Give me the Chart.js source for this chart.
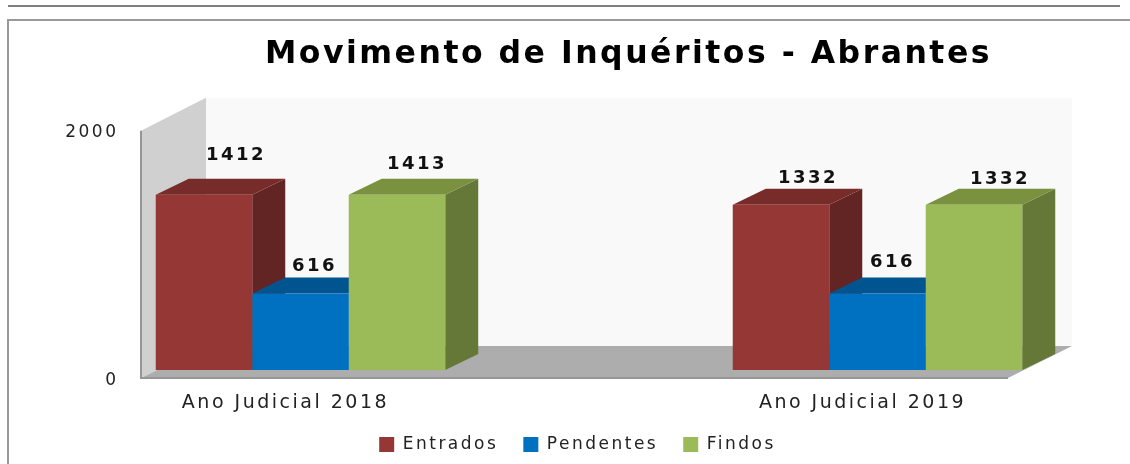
<!DOCTYPE html>
<html>
<head>
<meta charset="utf-8">
<style>
  html, body { margin: 0; background: #fff; }
  canvas { display: block; }
</style>
</head>
<body>
<canvas id="chart" width="1130" height="464"></canvas>
<script src="https://cdn.jsdelivr.net/npm/chart.js@4"></script>
<script>
const categories = ['Ano Judicial 2018', 'Ano Judicial 2019'];
const entrados = [1412, 1332];
const pendentes = [616, 616];
const findos = [1413, 1332];

const FONT = '"DejaVu Sans", sans-serif';
const DEPTH_X = 33;
const DEPTH_Y = 16;

// side and top colours of each series, same order as the datasets
const shades = [
  { top: '#772c2a', side: '#632523' },
  { top: '#005490', side: '#00497f' },
  { top: '#7a9140', side: '#667838' }
];

// labels in the picture don't sit at a fixed distance from the bars
const labelNudge = [
  [[32, -39], [27, -26]],
  [[14, -27], [15, -31]],
  [[20, -30], [26, -25]]
];

function poly(ctx, color, pts) {
  ctx.fillStyle = color;
  ctx.beginPath();
  pts.forEach((p, i) => i ? ctx.lineTo(p[0], p[1]) : ctx.moveTo(p[0], p[1]));
  ctx.closePath();
  ctx.fill();
}

const box3d = {
  id: 'box3d',
  beforeUpdate(chart) {
    // the original text is wide and loosely spaced
    chart.ctx.letterSpacing = '2.5px';
  },
  afterLayout(chart) {
    // title sits right of the legend centre in the original
    chart.titleBlock.left += 51;
    chart.titleBlock.right += 51;
    chart.legend.top -= 1;
    chart.legend.bottom -= 1;
    // x labels are clipped to the scale box, so let it reach the legend
    chart.scales.x.bottom += 25;
  },
  beforeDraw(chart) {
    const ctx = chart.ctx;
    ctx.save();
    ctx.strokeStyle = '#555';
    ctx.lineWidth = 1.5;
    ctx.beginPath();
    ctx.moveTo(8, 6);
    ctx.lineTo(1120, 6);
    ctx.stroke();
    ctx.strokeStyle = '#999';
    ctx.lineWidth = 2;
    ctx.beginPath();
    ctx.moveTo(8, 464);
    ctx.lineTo(8, 20);
    ctx.lineTo(1130, 20);
    ctx.stroke();
    ctx.restore();
  },
  beforeDatasetsDraw(chart) {
    const ctx = chart.ctx;
    const y = chart.scales.y;
    const left = chart.chartArea.left;
    const wallTop = y.getPixelForValue(2000) + 9;
    const front = y.getPixelForValue(0) + 8;
    const right = 1008;

    ctx.save();
    // back wall
    poly(ctx, '#f9f9f9', [[left + 65, wallTop - 33], [right + 64, wallTop - 33], [right + 64, front - 32], [left + 65, front - 32]]);
    // side wall
    poly(ctx, '#d0d0d0', [[left, wallTop], [left + 65, wallTop - 33], [left + 65, front - 32], [left, front]]);
    // floor
    poly(ctx, '#adadad', [[left, front], [right, front], [right + 64, front - 32], [left + 65, front - 32]]);
    ctx.strokeStyle = '#969696';
    ctx.lineWidth = 2;
    ctx.beginPath();
    ctx.moveTo(left, wallTop);
    ctx.lineTo(left, front);
    ctx.lineTo(right, front);
    ctx.stroke();

    // side and top faces, the library paints the front faces over them
    chart.data.datasets.forEach((ds, d) => {
      chart.getDatasetMeta(d).data.forEach(bar => {
        const l = bar.x - bar.width / 2;
        const r = bar.x + bar.width / 2;
        poly(ctx, shades[d].side, [[r, bar.y], [r + DEPTH_X, bar.y - DEPTH_Y], [r + DEPTH_X, bar.base - DEPTH_Y], [r, bar.base]]);
        poly(ctx, shades[d].top, [[l, bar.y], [l + DEPTH_X, bar.y - DEPTH_Y], [r + DEPTH_X, bar.y - DEPTH_Y], [r, bar.y]]);
      });
    });
    ctx.restore();
  },
  afterDatasetsDraw(chart) {
    const ctx = chart.ctx;
    ctx.save();
    ctx.font = 'bold 18px ' + FONT;
    ctx.fillStyle = '#111';
    ctx.textAlign = 'center';
    ctx.textBaseline = 'middle';
    chart.data.datasets.forEach((ds, d) => {
      chart.getDatasetMeta(d).data.forEach((bar, i) => {
        const n = labelNudge[d][i];
        ctx.fillText(ds.data[i].y, bar.x + n[0], bar.y + n[1]);
      });
    });
    ctx.restore();
  }
};

function series(label, values, color) {
  return {
    label: label,
    data: values.map((v, i) => ({ x: i, y: v })),
    backgroundColor: color,
    borderWidth: 0,
    categoryPercentage: 0.5017,
    barPercentage: 1
  };
}

new Chart(document.getElementById('chart'), {
  type: 'bar',
  data: {
    datasets: [
      series('Entrados', entrados, '#953735'),
      series('Pendentes', pendentes, '#0070c0'),
      series('Findos', findos, '#9bbb59')
    ]
  },
  plugins: [box3d],
  options: {
    responsive: false,
    animation: false,
    layout: { padding: { left: 25, right: 0, top: 0, bottom: 0 } },
    plugins: {
      tooltip: { enabled: false },
      title: {
        display: true,
        text: 'Movimento de Inquéritos - Abrantes',
        color: '#000',
        font: { family: FONT, size: 31.5, weight: 'bold', lineHeight: 1.2 },
        padding: { top: 36, bottom: 48 }
      },
      legend: {
        position: 'bottom',
        labels: {
          color: '#222',
          font: { family: FONT, size: 17 },
          boxWidth: 15,
          boxHeight: 15,
          padding: 25
        }
      }
    },
    scales: {
      x: {
        type: 'linear',
        offset: false,
        min: -0.2764,
        max: 1.4376,
        grid: { display: false },
        border: { display: false },
        afterBuildTicks: s => { s.ticks = categories.map((c, i) => ({ value: i })); },
        afterFit: s => { s.height = 42; },
        ticks: {
          callback: v => categories[v],
          color: '#222',
          font: { family: FONT, size: 19 },
          padding: 14,
          labelOffset: -15,
          maxRotation: 0,
          autoSkip: false
        }
      },
      y: {
        min: 0,
        max: 2000,
        grid: { display: false },
        border: { display: false },
        afterFit: s => { s.width = 116; },
        ticks: {
          stepSize: 2000,
          callback: v => String(v),
          color: '#222',
          font: { family: FONT, size: 17 },
          padding: 14.5,
          labelOffset: 10.5
        }
      }
    }
  }
});
</script>
</body>
</html>
